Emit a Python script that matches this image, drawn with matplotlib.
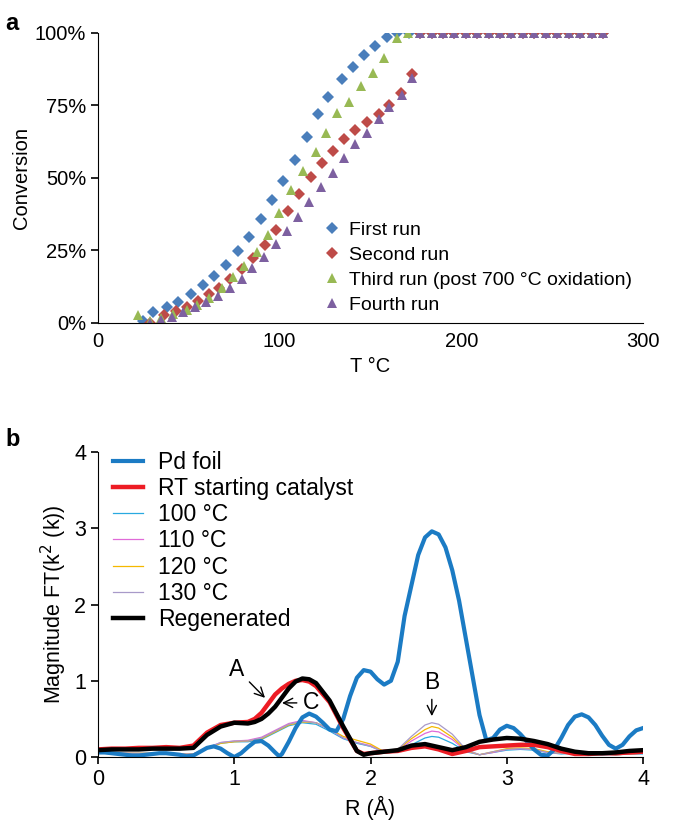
import numpy as np
import matplotlib
matplotlib.use('Agg')
import matplotlib.pyplot as plt
from matplotlib.ticker import FuncFormatter

plt.rcParams['font.family'] = ['Liberation Sans', 'DejaVu Sans']

# ---------------- panel a: light-off conversion ----------------
plateau_T = [177.3, 183.6, 189.9, 196.2, 202.5, 208.8, 215.0, 221.3, 227.6,
             233.9, 240.2, 246.5, 252.8, 259.1, 265.4, 271.7, 278.0]
plateau_c = [100] * len(plateau_T)

run1_T = [24.9, 30.4, 37.8, 44.2, 51.2, 58.0, 63.9, 70.5, 76.9, 83.2, 89.5,
          95.6, 102.0, 108.4, 114.9, 120.9, 126.7, 134.2, 140.2, 146.4,
          152.7, 158.9, 164.7, 171.0] + plateau_T
run1_c = [0.5, 3.8, 5.5, 7.2, 9.8, 12.9, 16.0, 19.8, 24.7, 29.6, 35.6,
          42.2, 48.9, 56.1, 63.9, 71.9, 77.9, 84.0, 88.1, 92.3,
          95.5, 98.4, 100, 100] + plateau_c

run2_T = [28.7, 36.4, 42.7, 48.9, 55.0, 61.1, 66.7, 72.6, 79.1, 85.5, 91.9,
          98.0, 104.4, 110.8, 117.1, 123.2, 129.6, 135.4, 141.5, 147.9,
          154.4, 160.4, 166.6, 172.7] + plateau_T
run2_c = [0, 2.5, 4.0, 5.5, 7.5, 9.8, 12.0, 14.9, 18.5, 22.2, 26.7,
          31.9, 38.6, 44.3, 50.3, 54.9, 59.2, 63.3, 66.4, 69.3,
          71.8, 75.0, 79.1, 85.8] + plateau_c

run3_T = [22.2, 28.7, 34.8, 41.3, 48.9, 54.7, 61.3, 68.1, 74.5, 80.5, 87.4,
          93.8, 99.8, 106.1, 112.6, 120.0, 125.5, 131.3, 138.1, 144.6,
          151.2, 157.4, 164.4, 170.8] + plateau_T
run3_c = [2.6, 0.5, 1.5, 3.0, 4.3, 6.0, 8.4, 11.8, 15.8, 19.6, 24.4,
          30.2, 37.9, 45.7, 52.4, 58.9, 65.3, 72.2, 76.0, 81.6,
          86.2, 91.2, 98.1, 100] + plateau_c

run4_T = [28.7, 34.8, 40.9, 47.0, 53.6, 59.7, 66.2, 72.6, 79.1, 84.9, 91.4,
          97.8, 103.9, 110.3, 116.3, 122.8, 129.2, 135.4, 141.5, 147.9,
          154.4, 160.4, 167.1, 172.7] + plateau_T
run4_c = [0, 0.8, 2.0, 3.5, 5.3, 7.0, 9.3, 11.8, 14.9, 18.7, 22.7,
          27.1, 31.6, 36.5, 41.7, 46.9, 51.7, 56.7, 61.6, 65.3,
          70.2, 74.5, 78.5, 84.3] + plateau_c

runs = [
    ('First run', run1_T, run1_c, 'D', '#4A7EBB'),
    ('Second run', run2_T, run2_c, 'D', '#BE4B48'),
    ('Third run (post 700 °C oxidation)', run3_T, run3_c, '^', '#98B954'),
    ('Fourth run', run4_T, run4_c, '^', '#7D60A0'),
]

# ---------------- panel b: EXAFS FT magnitude ----------------
pd_R = [0.00, 0.05, 0.10, 0.15, 0.20, 0.25, 0.30, 0.35, 0.40, 0.45, 0.50,
        0.55, 0.60, 0.65, 0.70, 0.75, 0.80, 0.85, 0.90, 0.95, 1.00, 1.05,
        1.10, 1.15, 1.20, 1.25, 1.30, 1.33, 1.35, 1.40, 1.45, 1.50, 1.55,
        1.60, 1.65, 1.70, 1.75, 1.80, 1.85, 1.90, 1.95, 2.00, 2.05, 2.10,
        2.15, 2.20, 2.25, 2.30, 2.35, 2.40, 2.45, 2.50, 2.55, 2.60, 2.65,
        2.70, 2.75, 2.80, 2.85, 2.90, 2.95, 3.00, 3.05, 3.10, 3.15, 3.20,
        3.25, 3.30, 3.35, 3.40, 3.45, 3.50, 3.55, 3.60, 3.65, 3.70, 3.75,
        3.80, 3.85, 3.90, 3.95, 4.00]
pd_foil = [0.06, 0.06, 0.05, 0.04, 0.03, 0.02, 0.02, 0.03, 0.04, 0.05, 0.05,
           0.04, 0.03, 0.01, 0.02, 0.07, 0.12, 0.14, 0.11, 0.05, 0.00, 0.05,
           0.13, 0.20, 0.21, 0.15, 0.06, 0.01, 0.04, 0.20, 0.38, 0.52, 0.57,
           0.53, 0.45, 0.36, 0.34, 0.50, 0.80, 1.04, 1.14, 1.12, 1.02, 0.95,
           1.00, 1.25, 1.85, 2.25, 2.65, 2.88, 2.96, 2.92, 2.75, 2.45, 2.05,
           1.55, 1.05, 0.55, 0.22, 0.25, 0.36, 0.41, 0.38, 0.30, 0.20, 0.10,
           0.03, 0.02, 0.10, 0.25, 0.42, 0.53, 0.56, 0.52, 0.42, 0.28, 0.16,
           0.11, 0.16, 0.27, 0.35, 0.38]

cat_R = [0.0, 0.1, 0.2, 0.3, 0.4, 0.5, 0.6, 0.7, 0.8, 0.9, 1.0, 1.1, 1.15,
         1.2, 1.25, 1.3, 1.35, 1.4, 1.45, 1.5, 1.55, 1.6, 1.7, 1.8, 1.9,
         1.95, 2.0, 2.1, 2.2, 2.3, 2.4, 2.5, 2.6, 2.7, 2.8, 2.9, 3.0, 3.1,
         3.2, 3.3, 3.4, 3.5, 3.6, 3.7, 3.8, 3.9, 4.0]
rt_cat = [0.10, 0.11, 0.11, 0.12, 0.12, 0.13, 0.12, 0.15, 0.32, 0.42, 0.45,
          0.46, 0.50, 0.58, 0.70, 0.82, 0.90, 0.96, 1.00, 1.01, 0.99, 0.93,
          0.72, 0.38, 0.08, 0.04, 0.05, 0.07, 0.08, 0.12, 0.14, 0.10, 0.04,
          0.08, 0.13, 0.14, 0.15, 0.16, 0.16, 0.13, 0.08, 0.04, 0.04, 0.05,
          0.05, 0.06, 0.07]
regen = [0.09, 0.10, 0.10, 0.10, 0.11, 0.11, 0.11, 0.12, 0.29, 0.40, 0.45,
         0.44, 0.46, 0.50, 0.57, 0.66, 0.78, 0.90, 0.99, 1.03, 1.02, 0.97,
         0.74, 0.40, 0.08, 0.03, 0.05, 0.07, 0.09, 0.15, 0.17, 0.13, 0.09,
         0.13, 0.20, 0.23, 0.25, 0.24, 0.21, 0.17, 0.11, 0.07, 0.05, 0.05,
         0.06, 0.08, 0.09]

t_R = [0.0, 0.2, 0.4, 0.6, 0.7, 0.8, 0.9, 1.0, 1.1, 1.2, 1.3, 1.4, 1.5, 1.6,
       1.7, 1.8, 1.9, 2.0, 2.1, 2.2, 2.3, 2.4, 2.45, 2.5, 2.6, 2.7, 2.8, 2.9,
       3.0, 3.1, 3.2, 3.3, 3.4, 3.5, 3.6, 3.7, 3.8, 3.9, 4.0]
t100 = [0.05, 0.04, 0.04, 0.03, 0.04, 0.11, 0.18, 0.20, 0.20, 0.23, 0.32,
        0.41, 0.45, 0.43, 0.34, 0.24, 0.18, 0.14, 0.07, 0.08, 0.16, 0.25,
        0.27, 0.26, 0.18, 0.07, 0.03, 0.06, 0.09, 0.10, 0.09, 0.06, 0.04,
        0.05, 0.05, 0.03, 0.03, 0.04, 0.04]
t110 = [0.05, 0.05, 0.04, 0.04, 0.04, 0.12, 0.19, 0.21, 0.22, 0.26, 0.35,
        0.44, 0.48, 0.45, 0.36, 0.25, 0.19, 0.15, 0.06, 0.09, 0.21, 0.31,
        0.34, 0.33, 0.23, 0.08, 0.03, 0.06, 0.10, 0.11, 0.10, 0.06, 0.05,
        0.06, 0.06, 0.04, 0.03, 0.04, 0.05]
t120 = [0.05, 0.05, 0.05, 0.04, 0.04, 0.11, 0.18, 0.20, 0.21, 0.24, 0.33,
        0.42, 0.46, 0.45, 0.37, 0.27, 0.22, 0.17, 0.07, 0.10, 0.24, 0.36,
        0.40, 0.38, 0.26, 0.09, 0.03, 0.07, 0.11, 0.12, 0.11, 0.07, 0.05,
        0.06, 0.06, 0.04, 0.03, 0.04, 0.05]
t130 = [0.06, 0.05, 0.05, 0.04, 0.04, 0.12, 0.19, 0.21, 0.21, 0.25, 0.34,
        0.43, 0.47, 0.45, 0.36, 0.25, 0.19, 0.14, 0.06, 0.10, 0.27, 0.42,
        0.45, 0.43, 0.30, 0.10, 0.03, 0.07, 0.10, 0.11, 0.10, 0.06, 0.05,
        0.07, 0.07, 0.04, 0.03, 0.04, 0.05]

fig = plt.figure(figsize=(6.85, 8.27), dpi=100)

# ---- a ----
ax = fig.add_axes([0.1431, 0.6100, 0.7956, 0.3504])
for label, T, c, mk, col in runs:
    ax.plot(T, c, linestyle='none', marker=mk, color=col,
            markersize=6.5 if mk == 'D' else 7.5, markeredgewidth=0, label=label)
ax.set_xlim(0, 300)
ax.set_ylim(0, 100)
ax.set_xticks([0, 100, 200, 300])
ax.set_yticks([0, 25, 50, 75, 100])
ax.yaxis.set_major_formatter(FuncFormatter(lambda v, p: f'{v:.0f}%'))
for s in ['top', 'right']:
    ax.spines[s].set_visible(False)
ax.tick_params(labelsize=14.5, direction='out', length=5, width=1.2)
ax.tick_params(axis='x', length=0, pad=7)
ax.set_xlabel('T °C', fontsize=14.5)
ax.set_ylabel('Conversion', fontsize=14.5, labelpad=3)
ax.legend(loc='upper left', bbox_to_anchor=(0.415, 0.35), frameon=False, fontsize=14,
          numpoints=1, handlelength=0.8, handletextpad=0.5, labelspacing=0.38,
          borderpad=0, borderaxespad=0)

# ---- b ----
bx = fig.add_axes([0.1431, 0.0846, 0.7956, 0.3688])
bx.plot(t_R, t100, color='#29A9E0', lw=0.9, label='100 °C')
bx.plot(t_R, t110, color='#E06BD8', lw=0.9, label='110 °C')
bx.plot(t_R, t120, color='#F5B800', lw=0.9, label='120 °C')
bx.plot(t_R, t130, color='#A89AC9', lw=0.9, label='130 °C')
bx.plot(pd_R, pd_foil, color='#1B7BC4', lw=3, label='Pd foil')
bx.plot(cat_R, rt_cat, color='#ED1C24', lw=3.2, label='RT starting catalyst')
bx.plot(cat_R, regen, color='black', lw=3.2, label='Regenerated')
bx.set_xlim(0, 4)
bx.set_ylim(0, 4)
bx.set_xticks([0, 1, 2, 3, 4])
bx.set_yticks([0, 1, 2, 3, 4])
for s in ['top', 'right']:
    bx.spines[s].set_visible(False)
bx.tick_params(labelsize=15.5, direction='out', length=5, width=1.2)
bx.set_xlabel('R (Å)', fontsize=15.5)
bx.set_ylabel('Magnitude FT(k$^2$ (k))', fontsize=15.5)

h, l = bx.get_legend_handles_labels()
order = ['Pd foil', 'RT starting catalyst', '100 °C', '110 °C', '120 °C', '130 °C', 'Regenerated']
hs = [h[l.index(o)] for o in order]
bx.legend(hs, order, loc='upper left', bbox_to_anchor=(0.0275, 1.004), frameon=False,
          fontsize=16.5, handlelength=1.31, handletextpad=0.65, labelspacing=0.14,
          borderpad=0, borderaxespad=0)

arr = dict(arrowstyle='->', color='black', lw=1)
bx.annotate('A', xy=(1.24, 0.75), xytext=(1.02, 1.15), fontsize=16.5,
            ha='center', va='center', arrowprops=arr)
bx.annotate('C', xy=(1.33, 0.71), xytext=(1.56, 0.71), fontsize=16.5,
            ha='center', va='center', arrowprops=arr)
bx.annotate('B', xy=(2.45, 0.50), xytext=(2.45, 0.98), fontsize=16.5,
            ha='center', va='center', arrowprops=arr)

fig.text(0.008, 0.985, 'a', fontsize=17, fontweight='bold', va='top')
fig.text(0.008, 0.483, 'b', fontsize=17, fontweight='bold', va='top')

fig.savefig('out.png', dpi=100)
